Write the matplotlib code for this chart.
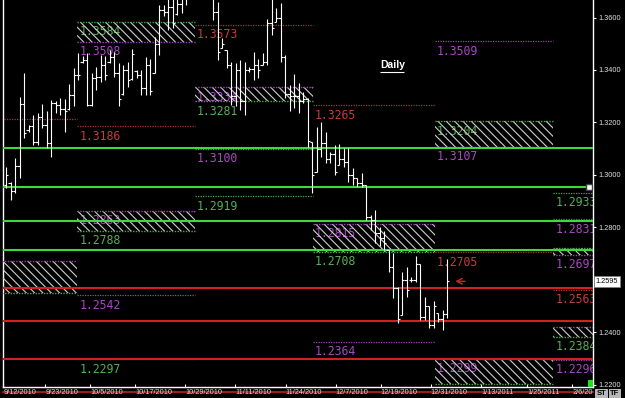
import matplotlib
matplotlib.use('Agg')
import matplotlib.pyplot as plt
from matplotlib.patches import Rectangle
from matplotlib.transforms import Bbox

plt.rcParams['font.family'] = 'Liberation Sans'
plt.rcParams['hatch.linewidth'] = 0.8

# daily OHLC bars
opens = [1.2960, 1.2970, 1.2940, 1.3035, 1.3270, 1.3170, 1.3185, 1.3125, 1.3220, 1.3190,
         1.3120, 1.3275, 1.3265, 1.3250, 1.3250, 1.3305, 1.3380, 1.3430, 1.3440, 1.3265,
         1.3370, 1.3372, 1.3420, 1.3430, 1.3450, 1.3390, 1.3310, 1.3400, 1.3365, 1.3395,
         1.3380, 1.3330, 1.3420, 1.3390, 1.3500, 1.3630, 1.3620, 1.3640, 1.3615, 1.3650,
         1.3700, 1.3720, 1.3820, 1.3760, 1.3800, 1.3720, 1.3700, 1.3620, 1.3483, 1.3477,
         1.3420, 1.3300, 1.3400, 1.3280, 1.3400, 1.3405, 1.3420, 1.3420, 1.3430, 1.3580,
         1.3584, 1.3600, 1.3450, 1.3310, 1.3300, 1.3300, 1.3280, 1.3290, 1.3127, 1.3013,
         1.3100, 1.3120, 1.3060, 1.3080, 1.3038, 1.3060, 1.3050, 1.3000, 1.2987, 1.2970,
         1.2960, 1.2840, 1.2830, 1.2780, 1.2760, 1.2715, 1.2650, 1.2570, 1.2467, 1.2600,
         1.2600, 1.2600, 1.2660, 1.2460, 1.2499, 1.2430, 1.2473, 1.2450, 1.2470]
highs = [1.3032, 1.2975, 1.3064, 1.3299, 1.3388, 1.3191, 1.3229, 1.3235, 1.3269, 1.3244,
         1.3286, 1.3280, 1.3292, 1.3289, 1.3346, 1.3407, 1.3464, 1.3455, 1.3466, 1.3390,
         1.3413, 1.3457, 1.3454, 1.3477, 1.3470, 1.3426, 1.3419, 1.3432, 1.3479, 1.3400,
         1.3400, 1.3449, 1.3441, 1.3527, 1.3648, 1.3648, 1.3700, 1.3690, 1.3720, 1.3740,
         1.3760, 1.3850, 1.3900, 1.3880, 1.3850, 1.3800, 1.3740, 1.3660, 1.3521, 1.3477,
         1.3432, 1.3426, 1.3438, 1.3432, 1.3413, 1.3470, 1.3441, 1.3466, 1.3593, 1.3700,
         1.3635, 1.3657, 1.3457, 1.3343, 1.3385, 1.3350, 1.3318, 1.3292, 1.3127, 1.3184,
         1.3200, 1.3165, 1.3089, 1.3114, 1.3118, 1.3102, 1.3101, 1.3025, 1.2987, 1.3006,
         1.2961, 1.2847, 1.2866, 1.2800, 1.2787, 1.2715, 1.2702, 1.2575, 1.2632, 1.2651,
         1.2613, 1.2690, 1.2660, 1.2537, 1.2499, 1.2518, 1.2473, 1.2486, 1.2680]
lows = [1.2949, 1.2905, 1.2930, 1.2988, 1.3140, 1.3165, 1.3115, 1.3115, 1.3178, 1.3102,
        1.3070, 1.3235, 1.3229, 1.3162, 1.3248, 1.3263, 1.3362, 1.3426, 1.3261, 1.3261,
        1.3322, 1.3356, 1.3362, 1.3426, 1.3375, 1.3263, 1.3305, 1.3334, 1.3362, 1.3369,
        1.3305, 1.3305, 1.3305, 1.3388, 1.3457, 1.3604, 1.3553, 1.3560, 1.3610, 1.3616,
        1.3648, 1.3700, 1.3740, 1.3720, 1.3700, 1.3680, 1.3590, 1.3438, 1.3483, 1.3407,
        1.3265, 1.3261, 1.3248, 1.3229, 1.3394, 1.3362, 1.3369, 1.3419, 1.3419, 1.3534,
        1.3584, 1.3432, 1.3292, 1.3242, 1.3254, 1.3235, 1.3273, 1.3108, 1.2930, 1.3013,
        1.3070, 1.3045, 1.3045, 1.3000, 1.3038, 1.3032, 1.2974, 1.2961, 1.2955, 1.2955,
        1.2828, 1.2790, 1.2740, 1.2730, 1.2715, 1.2632, 1.2530, 1.2435, 1.2467, 1.2537,
        1.2594, 1.2594, 1.2448, 1.2448, 1.2416, 1.2416, 1.2441, 1.2410, 1.2454]
closes = [1.3000, 1.2940, 1.3035, 1.3270, 1.3160, 1.3185, 1.3125, 1.3220, 1.3190, 1.3120,
          1.3275, 1.3265, 1.3250, 1.3245, 1.3305, 1.3380, 1.3380, 1.3440, 1.3265, 1.3370,
          1.3372, 1.3420, 1.3380, 1.3450, 1.3390, 1.3290, 1.3400, 1.3360, 1.3460, 1.3380,
          1.3330, 1.3420, 1.3320, 1.3500, 1.3630, 1.3620, 1.3640, 1.3580, 1.3650, 1.3700,
          1.3720, 1.3820, 1.3760, 1.3800, 1.3720, 1.3700, 1.3620, 1.3470, 1.3500, 1.3420,
          1.3300, 1.3400, 1.3280, 1.3400, 1.3405, 1.3420, 1.3400, 1.3430, 1.3580, 1.3560,
          1.3600, 1.3450, 1.3310, 1.3300, 1.3300, 1.3280, 1.3290, 1.3130, 1.3000, 1.3100,
          1.3120, 1.3060, 1.3080, 1.3010, 1.3060, 1.3050, 1.3000, 1.2990, 1.2970, 1.2960,
          1.2840, 1.2830, 1.2780, 1.2760, 1.2740, 1.2650, 1.2570, 1.2450, 1.2600, 1.2560,
          1.2600, 1.2660, 1.2460, 1.2500, 1.2430, 1.2500, 1.2450, 1.2470, 1.2595]
last_price = 1.2595

date_ticks = [-0.6, 8.7, 18.7, 28.7, 39.8, 50.9, 62.2, 73.3, 83.3, 94.4, 105.6, 115.8, 125.8]
date_labels = ['9/12/2010', '9/23/2010', '10/5/2010', '10/17/2010', '10/29/2010', '11/11/2010',
               '11/24/2010', '12/7/2010', '12/19/2010', '12/31/2010', '1/13/2011', '1/25/2011',
               '2/6/2011']
price_ticks = [1.22, 1.24, 1.26, 1.28, 1.30, 1.32, 1.34, 1.36]

# monthly pivot periods (bar positions of month starts)
period_edges = [-5.0, 15.8, 42.0, 68.2, 95.3, 121.6, 140.0]

# dotted pivot levels
line_period = [0, 1, 1, 1, 2, 2, 2, 3, 3, 4, 4, 5, 5, 5, 5]
line_price = [1.3213, 1.3186, 1.2542, 1.2297, 1.3573, 1.3100, 1.2919, 1.3265, 1.2364,
              1.3509, 1.2705, 1.2933, 1.2831, 1.2563, 1.2296]
line_color = ['red', 'red', 'magenta', 'gray', 'red', 'gray', 'green', 'red', 'magenta',
              'magenta', 'red', 'green', 'magenta', 'red', 'magenta']
line_text = ['', '1.3186', '1.2542', '1.2297', '1.3573', '1.3100', '1.2919', '1.3265', '1.2364',
             '1.3509', '1.2705', '1.2933', '1.2831', '1.2563', '1.2296']
line_text_color = ['red', 'red', 'magenta', 'green', 'red', 'magenta', 'green', 'red', 'magenta',
                   'magenta', 'red', 'green', 'magenta', 'red', 'magenta']

# hatched pivot zones
box_period = [0, 1, 1, 2, 3, 4, 4, 5, 5]
box_low = [1.2549, 1.3508, 1.2788, 1.3281, 1.2708, 1.3107, 1.2204, 1.2697, 1.2384]
box_high = [1.2673, 1.3584, 1.2863, 1.3334, 1.2815, 1.3204, 1.2299, 1.2723, 1.2422]
box_top = ['magenta', 'green', 'magenta', 'magenta', 'magenta', 'green', 'magenta', 'green', 'magenta']
box_bottom = ['green', 'magenta', 'green', 'green', 'green', 'magenta', 'green', 'magenta', 'green']
box_inner = ['', '1.3584', '1.2863', '1.3334', '1.2815', '1.3204', '1.2299', '', '']
box_below = ['', '1.3508', '1.2788', '1.3281', '1.2708', '1.3107', '', '1.2697', '1.2384']

green_levels = [1.3103, 1.2955, 1.2825, 1.2714]
red_levels = [1.2568, 1.2444, 1.2299]

LINE_COLORS = {'red': '#b03030', 'magenta': '#a040b8', 'green': '#48a848', 'gray': '#8a8a8a'}
TEXT_COLORS = {'red': '#c83c3c', 'magenta': '#a848c0', 'green': '#55b055'}
LEVEL_FONT = dict(family='DejaVu Sans Mono', fontsize=8.3)
DOT = (0, (1, 1))

fig = plt.figure(figsize=(6.25, 3.98), dpi=100, facecolor='black')
ax = fig.add_axes([3 / 625, 11 / 398, 590 / 625, 387 / 398], facecolor='black')
ax.set_xlim(-0.667, 130.44)
ax.set_ylim(1.21922, 1.36667)


def level_label(x, price, text, color):
    t = ax.annotate(text, (x, price), xytext=(1.5, -2.5), textcoords='offset points',
                    va='top', ha='left', color=TEXT_COLORS[color], zorder=2,
                    annotation_clip=False, **LEVEL_FONT)
    t.set_clip_path(ax.patch)


# dotted levels
for p, price, c, txt, tc in zip(line_period, line_price, line_color, line_text, line_text_color):
    x0, x1 = period_edges[p], period_edges[p + 1]
    ax.hlines(price, x0, x1, colors=LINE_COLORS[c], linestyles=DOT, lw=0.9, zorder=2)
    if txt:
        level_label(x0, price, txt, tc)

# hatched zones
for p, lo, hi, tc, bc, inner, below in zip(box_period, box_low, box_high, box_top, box_bottom,
                                           box_inner, box_below):
    x0, x1 = period_edges[p], period_edges[p + 1]
    if inner:
        level_label(x0, hi, inner, tc)
    if below:
        level_label(x0, lo, below, bc)
    ax.add_patch(Rectangle((x0, lo), x1 - x0, hi - lo, facecolor='none', edgecolor='#cfcfcf',
                           hatch='\\\\\\\\', lw=0, zorder=3))
    ax.hlines(hi, x0, x1, colors=LINE_COLORS[tc], linestyles=DOT, lw=1.0, zorder=3.5)
    ax.hlines(lo, x0, x1, colors=LINE_COLORS[bc], linestyles=DOT, lw=1.0, zorder=3.5)

# full-width levels
for price in green_levels:
    ax.axhline(price, color='#3cd83c', lw=1.5, zorder=4)
for price in red_levels:
    ax.axhline(price, color='#d42020', lw=1.5, zorder=4)

# OHLC bars
xs = list(range(len(closes)))
ax.vlines(xs, lows, highs, colors='white', lw=0.8, zorder=5)
ax.hlines(opens, [x - 0.55 for x in xs], xs, colors='white', lw=0.8, zorder=5)
ax.hlines(closes, xs, [x + 0.55 for x in xs], colors='white', lw=0.8, zorder=5)

# last price arrow
ax.annotate('', xy=(xs[-1] + 1.2, last_price), xytext=(xs[-1] + 4.6, last_price),
            arrowprops=dict(arrowstyle='->', color='#d42020', lw=1.0), zorder=6)

# "Daily" caption
ax.text(83.1, 1.3420, 'Daily', color='white', fontsize=7.5, fontweight='bold',
        va='center', ha='left', zorder=6)
ax.hlines(1.3394, 83.1, 88.4, colors='white', lw=0.8, zorder=6)

# current-level marker at right edge
ax.plot([129.6], [green_levels[1]], marker='s', ms=4.5, mfc='white', mec='#404040',
        clip_on=False, zorder=7)
ax.add_patch(Rectangle((0.992, 0.0), 0.008, 0.018, transform=ax.transAxes,
                       facecolor='#20e020', edgecolor='none', zorder=7))

# bottom red line running through the date labels
ax.axhline(1.21731, color='#c02020', lw=1.2, clip_on=False, zorder=1)

# axes styling
for side in ['left', 'right', 'bottom']:
    ax.spines[side].set_color('white')
    ax.spines[side].set_linewidth(1.0)
ax.spines['top'].set_visible(False)
ax.yaxis.tick_right()
# the 1.2600 label sits under the current price box
ax.set_yticks(price_ticks, [f'{v:.4f}' if abs(v - 1.26) > 1e-6 else '' for v in price_ticks])
ax.tick_params(axis='y', length=2, color='white', labelsize=5.3, labelcolor='#e0e0e0', pad=2)
ax.set_xticks(date_ticks, date_labels, ha='left')
ax.tick_params(axis='x', length=2, direction='in', color='white', labelsize=5.3,
               labelcolor='#d8d8d8', pad=1.5)
# the last date label is cut by the ST/TF buttons
ax.get_xticklabels()[-1].set_clip_box(Bbox.from_extents(0, 0, 593, 398))
ax.get_xticklabels()[-1].set_clip_on(True)

# current price box on the scale
ax.text(1.004, last_price, f'{last_price:.4f}', transform=ax.get_yaxis_transform(),
        fontsize=5.3, color='black', va='center', ha='left', zorder=10, clip_on=False,
        bbox=dict(boxstyle='square,pad=0.25', facecolor='white', edgecolor='#808080', lw=0.6))

# ST / TF buttons
for label, xpos in [('ST', 0.962), ('TF', 0.983)]:
    fig.text(xpos, 0.012, label, fontsize=5.5, fontweight='bold', color='black', va='center',
             ha='center', bbox=dict(boxstyle='square,pad=0.15', facecolor='#b8b8b8',
                                    edgecolor='#e0e0e0', lw=0.5))

fig.savefig('out.png', dpi=100, facecolor='black')
